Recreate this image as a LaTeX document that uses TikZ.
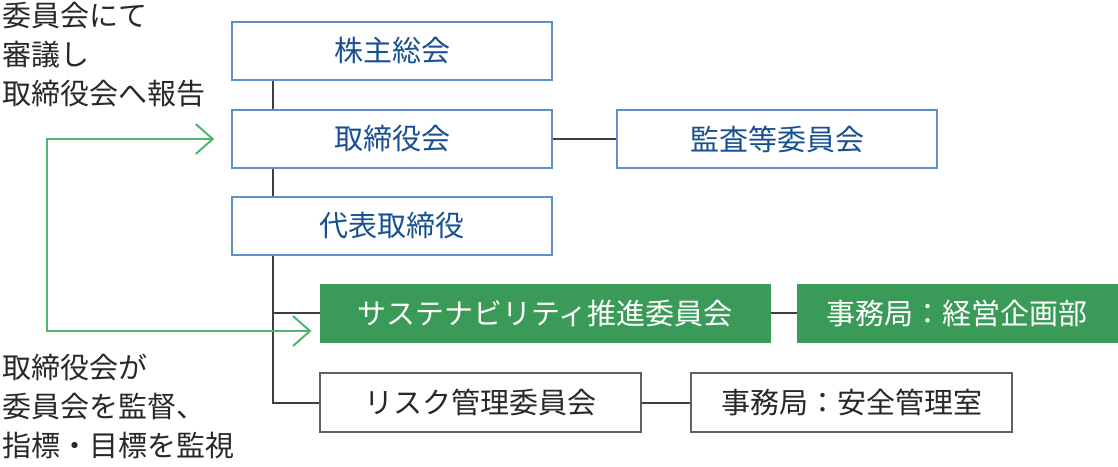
\documentclass[tikz,border=0pt]{standalone}
\usepackage{fontspec}
\setmainfont{Noto Sans CJK JP}
\usetikzlibrary{arrows.meta,calc}
\definecolor{boxblue}{RGB}{95,145,200}
\definecolor{txtblue}{RGB}{25,80,145}
\definecolor{grn}{RGB}{58,155,88}
\definecolor{lgrn}{RGB}{80,180,110}
\definecolor{lineg}{RGB}{70,60,60}
\definecolor{txtg}{RGB}{40,40,40}
\definecolor{boxg}{RGB}{100,95,95}
\tikzset{
  bluebox/.style={draw=boxblue,line width=1.5pt,fill=white,text=txtblue,minimum width=320pt,minimum height=58pt,inner sep=0pt,font=\fontsize{29}{34}\selectfont},
  greenbox/.style={fill=grn,draw=grn,line width=1pt,text=white,minimum height=58pt,inner sep=0pt,font=\fontsize{29}{34}\selectfont},
  graybox/.style={draw=boxg,line width=1.5pt,fill=white,text=txtg,minimum width=321pt,minimum height=59pt,inner sep=0pt,font=\fontsize{29}{34}\selectfont},
  conn/.style={draw=lineg,line width=2pt},
  note/.style={text=txtg,align=left,inner sep=0pt,font=\fontsize{29}{39}\selectfont},
  garrow/.style={draw=lgrn,line width=2pt,{Straight Barb[length=17pt,width=30pt]}-{Straight Barb[length=17pt,width=30pt]}}
}
\begin{document}
\begin{tikzpicture}[x=1pt,y=-1pt]
\useasboundingbox (0,0) rectangle (1118,466);
\node[bluebox] (kabu) at (392,51) {株主総会};
\node[bluebox] (tori) at (392,139) {取締役会};
\node[bluebox] (daih) at (392,226) {代表取締役};
\node[bluebox] (kansa) at (777,139) {監査等委員会};
\node[greenbox,minimum width=450pt] (sus) at (545,313) {サステナビリティ推進委員会};
\node[greenbox,minimum width=320pt] (jim1) at (957,313) {事務局：経営企画部};
\node[graybox] (risk) at (480.5,402.5) {リスク管理委員会};
\node[graybox] (jim2) at (851.5,402.5) {事務局：安全管理室};
\coordinate (t1) at ([xshift=42pt]kabu.south west);
\coordinate (t2) at ([xshift=42pt]tori.south west);
\coordinate (t3) at ([xshift=42pt]daih.south west);
\draw[conn] (t1) -- (t1 |- tori.north);
\draw[conn] (t2) -- (t2 |- daih.north);
\draw[conn] (t3) |- (risk.west);
\draw[conn] (t3 |- sus.west) -- (sus.west);
\draw[conn] (tori.east) -- (kansa.west);
\draw[conn] (sus.east) -- (jim1.west);
\draw[conn] (risk.east) -- (jim2.west);
\coordinate (ga) at ($(tori.west)+(-17,0)$);
\coordinate (gb) at ($(sus.west)+(-8,18)$);
\coordinate (gc) at (47,0);
\draw[garrow] (ga) -| (gc |- gb) -- (gb);
\node[note,anchor=north west] (n1) at (2,2) {委員会にて\\審議し\\取締役会へ報告};
\node[note,anchor=north west] (n2) at (2,354) {取締役会が\\委員会を監督、\\指標・目標を監視};
\end{tikzpicture}
\end{document}
